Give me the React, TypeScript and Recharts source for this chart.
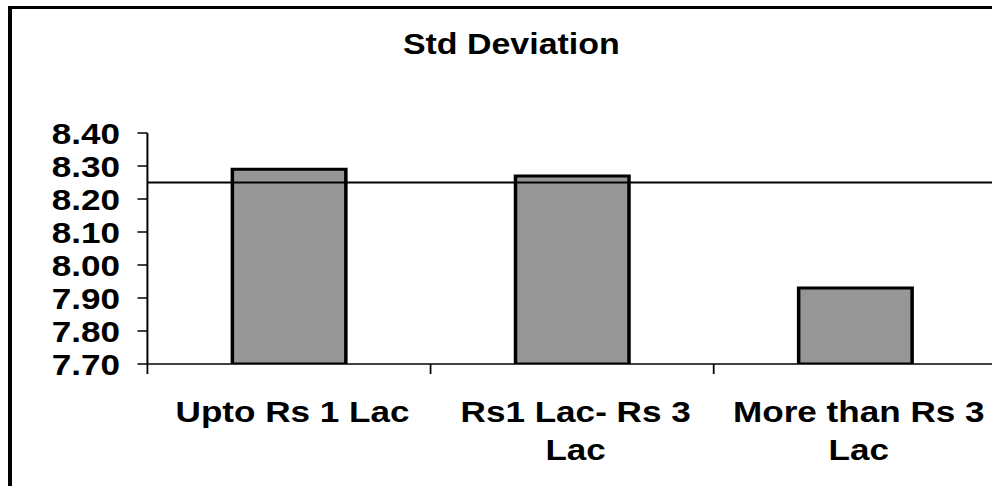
import React from "react";
import { BarChart, Bar, XAxis, YAxis, ReferenceLine } from "recharts";

const categories = ["Upto Rs 1 Lac", "Rs1 Lac- Rs 3 Lac", "More than Rs 3 Lac"];
const categoryLines = [["Upto Rs 1 Lac"], ["Rs1 Lac- Rs 3", "Lac"], ["More than Rs 3", "Lac"]];
const stdValues = [8.29, 8.27, 7.93];
const overallStd = 8.25;
const yTicks = [7.7, 7.8, 7.9, 8.0, 8.1, 8.2, 8.3, 8.4];
const boundaryTicks = [0, 0.5, 1, 1.5, 2, 2.5, 3];
const title = "Std Deviation";

const data = categories.map((name, i) => ({ name, value: stdValues[i], pos: i + 0.5 }));

const FONT = '"Liberation Sans", Arial, sans-serif';
const SX = 1.17;

const PosTick = (props: any) => {
  const { x, y, payload } = props;
  const v = payload.value;
  if (Number.isInteger(v)) {
    return <line x1={x} x2={x} y1={y} y2={y + 10} stroke="#000" strokeWidth={1.5} />;
  }
  const lines = categoryLines[Math.floor(v)] || [];
  return (
    <text textAnchor="middle" fontFamily={FONT} fontWeight="bold" fontSize={30} fill="#000">
      {lines.map((l, i) => (
        <tspan key={i} x={x + 3} y={y + 58 + i * 38}>
          {l}
        </tspan>
      ))}
    </text>
  );
};

export default function App() {
  return (
    <div style={{ position: "absolute", left: 0, top: 0, width: 992, height: 486, overflow: "hidden", background: "#fff" }}>
      <div
        style={{
          position: "absolute",
          left: 8,
          top: 6,
          width: 1100,
          height: 600,
          borderLeft: "4px solid #000",
          borderTop: "3px solid #000",
        }}
      />
      <div style={{ position: "absolute", left: 0, top: 0, width: 870, height: 486, transform: `scaleX(${SX})`, transformOrigin: "0 0" }}>
        <div
          style={{
            position: "absolute",
            left: 337,
            top: 29,
            width: 200,
            textAlign: "center",
            fontFamily: FONT,
            fontWeight: "bold",
            fontSize: 29,
            lineHeight: "30px",
            color: "#000",
            whiteSpace: "nowrap",
          }}
        >
          {title}
        </div>
        <BarChart width={870} height={486} data={data} margin={{ top: 133, right: 18, bottom: 0, left: 0 }} barCategoryGap="30%">
          <XAxis xAxisId="cat" dataKey="name" type="category" hide height={0} />
          <XAxis
            xAxisId="pos"
            dataKey="pos"
            type="number"
            domain={[0, 3]}
            allowDataOverflow
            ticks={boundaryTicks}
            interval={0}
            height={122}
            tickLine={false}
            tickSize={0}
            tickMargin={0}
            axisLine={{ stroke: "#000", strokeWidth: 1.7 }}
            tick={<PosTick />}
          />
          <YAxis
            domain={[7.7, 8.4]}
            ticks={yTicks}
            interval={0}
            width={126}
            allowDataOverflow
            tickSize={8.5}
            tickMargin={15}
            tickFormatter={(v: number) => v.toFixed(2)}
            axisLine={{ stroke: "#000", strokeWidth: 1.7 }}
            tickLine={{ stroke: "#000", strokeWidth: 1.5 }}
            tick={{ fontSize: 30, fontWeight: "bold", fill: "#000", fontFamily: FONT }}
          />
          <Bar xAxisId="cat" dataKey="value" fill="#969696" stroke="#000" strokeWidth={3} isAnimationActive={false} />
          <ReferenceLine xAxisId="cat" y={overallStd} stroke="#000" strokeWidth={2} />
        </BarChart>
      </div>
    </div>
  );
}
